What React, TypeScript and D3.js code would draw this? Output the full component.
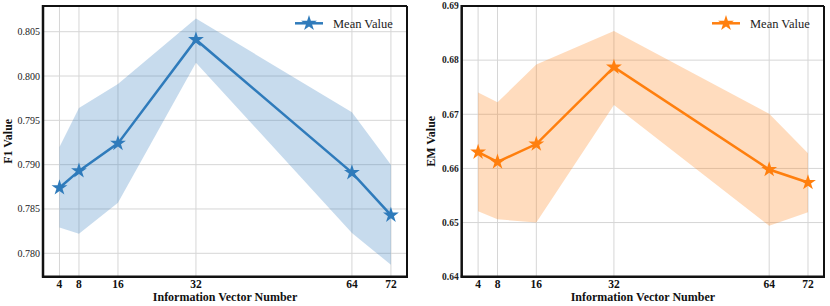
import React, { useRef, useEffect } from 'react';
import * as d3 from 'd3';

const vectorNumbers = [4, 8, 16, 32, 64, 72];

const f1Mean = [0.7874, 0.7893, 0.7924, 0.8041, 0.7891, 0.7843];
const f1Upper = [0.7920, 0.7964, 0.7991, 0.8065, 0.7959, 0.7900];
const f1Lower = [0.7829, 0.7822, 0.7857, 0.8015, 0.7823, 0.7787];
const f1Ticks = [0.780, 0.785, 0.790, 0.795, 0.800, 0.805];

const emMean = [0.6630, 0.6612, 0.6645, 0.6787, 0.6598, 0.6574];
const emUpper = [0.6740, 0.6722, 0.6792, 0.6854, 0.6701, 0.6628];
const emLower = [0.6521, 0.6506, 0.6500, 0.6717, 0.6494, 0.6519];
const emTicks = [0.64, 0.65, 0.66, 0.67, 0.68, 0.69];

type PanelProps = {
  left: number;
  right: number;
  yDomain: [number, number];
  yTicks: number[];
  tickFormat: string;
  tickBold: boolean;
  mean: number[];
  upper: number[];
  lower: number[];
  color: string;
  yLabel: string;
  yLabelX: number;
};

const top = 6;
const bottom = 276.7;
const serif = "'Liberation Serif', 'Times New Roman', 'DejaVu Serif', serif";

const Panel = (p: PanelProps) => {
  const ref = useRef<SVGGElement | null>(null);

  useEffect(() => {
    if (!ref.current) return;
    const g = d3.select(ref.current);
    g.selectAll('*').remove();

    const x = d3.scaleLinear().domain([0.62, 75.3]).range([p.left, p.right]);
    const y = d3.scaleLinear().domain(p.yDomain).range([bottom, top]);

    // grid
    g.selectAll('.gx')
      .data(vectorNumbers)
      .enter()
      .append('line')
      .attr('x1', d => x(d)).attr('x2', d => x(d))
      .attr('y1', top).attr('y2', bottom)
      .attr('stroke', '#d6d6d6').attr('stroke-width', 1);
    g.selectAll('.gy')
      .data(p.yTicks)
      .enter()
      .append('line')
      .attr('x1', p.left).attr('x2', p.right)
      .attr('y1', d => y(d)).attr('y2', d => y(d))
      .attr('stroke', '#d6d6d6').attr('stroke-width', 1);

    // band
    const idx = d3.range(vectorNumbers.length);
    const area = d3.area<number>()
      .x(i => x(vectorNumbers[i]))
      .y0(i => y(p.lower[i]))
      .y1(i => y(p.upper[i]));
    g.append('path')
      .attr('d', area(idx))
      .attr('fill', p.color)
      .attr('fill-opacity', 0.27);

    // mean line
    const line = d3.line<number>()
      .x(i => x(vectorNumbers[i]))
      .y(i => y(p.mean[i]));
    g.append('path')
      .attr('d', line(idx))
      .attr('fill', 'none')
      .attr('stroke', p.color)
      .attr('stroke-width', 2.5);

    const star = d3.symbol().type(d3.symbolStar).size(78);
    g.selectAll('.pt')
      .data(idx)
      .enter()
      .append('path')
      .attr('d', star()!)
      .attr('transform', i => `translate(${x(vectorNumbers[i])},${y(p.mean[i])})`)
      .attr('fill', p.color);

    // spines
    g.append('line').attr('x1', p.left).attr('x2', p.right).attr('y1', top).attr('y2', top)
      .attr('stroke', '#111').attr('stroke-width', 2);
    g.append('line').attr('x1', p.right).attr('x2', p.right).attr('y1', top).attr('y2', bottom)
      .attr('stroke', '#111').attr('stroke-width', 2);
    g.append('line').attr('x1', p.left).attr('x2', p.left).attr('y1', top - 1).attr('y2', bottom + 1)
      .attr('stroke', '#111').attr('stroke-width', 2.5);
    g.append('line').attr('x1', p.left - 1).attr('x2', p.right + 1).attr('y1', bottom).attr('y2', bottom)
      .attr('stroke', '#111').attr('stroke-width', 2.5);

    // tick labels
    const fmt = d3.format(p.tickFormat);
    g.selectAll('.yt')
      .data(p.yTicks)
      .enter()
      .append('text')
      .attr('x', p.left - 3)
      .attr('y', d => y(d))
      .attr('dy', '0.35em')
      .attr('text-anchor', 'end')
      .style('font-family', serif)
      .style('font-size', p.tickBold ? '9.5px' : '10px')
      .style('font-weight', p.tickBold ? 'bold' : 'normal')
      .attr('fill', '#222')
      .text(d => fmt(d));

    g.selectAll('.xt')
      .data(vectorNumbers)
      .enter()
      .append('text')
      .attr('x', d => x(d))
      .attr('y', bottom + 11.5)
      .attr('text-anchor', 'middle')
      .style('font-family', serif)
      .style('font-size', '11.5px')
      .style('font-weight', 'bold')
      .attr('fill', '#111')
      .text(d => d);

    // axis labels
    g.append('text')
      .attr('x', (p.left + p.right) / 2)
      .attr('y', 301)
      .attr('text-anchor', 'middle')
      .style('font-family', serif)
      .style('font-size', '12px')
      .style('font-weight', 'bold')
      .attr('fill', '#111')
      .text('Information Vector Number');

    g.append('text')
      .attr('transform', `translate(${p.yLabelX},${(top + bottom) / 2}) rotate(-90)`)
      .attr('text-anchor', 'middle')
      .attr('dy', '0.35em')
      .style('font-family', serif)
      .style('font-size', '12px')
      .style('font-weight', 'bold')
      .attr('fill', '#111')
      .text(p.yLabel);

    // legend
    const lx = p.right - 112;
    const ly = 23.3;
    g.append('line')
      .attr('x1', lx).attr('x2', lx + 28)
      .attr('y1', ly).attr('y2', ly)
      .attr('stroke', p.color).attr('stroke-width', 2.5);
    g.append('path')
      .attr('d', star()!)
      .attr('transform', `translate(${lx + 14},${ly})`)
      .attr('fill', p.color);
    g.append('text')
      .attr('x', lx + 38)
      .attr('y', ly)
      .attr('dy', '0.35em')
      .style('font-family', serif)
      .style('font-size', '12.5px')
      .attr('fill', '#222')
      .text('Mean Value');
  }, [p]);

  return <g ref={ref} />;
};

const App = () => {
  return (
    <svg width={830} height={306} style={{ position: 'absolute', left: 0, top: 0, background: '#fff' }}>
      <Panel
        left={43}
        right={407}
        yDomain={[0.77736, 0.8079]}
        yTicks={f1Ticks}
        tickFormat=".3f"
        tickBold={false}
        mean={f1Mean}
        upper={f1Upper}
        lower={f1Lower}
        color="#2f7bbb"
        yLabel="F1 Value"
        yLabelX={8}
      />
      <Panel
        left={461.7}
        right={824}
        yDomain={[0.64, 0.69]}
        yTicks={emTicks}
        tickFormat=".2f"
        tickBold={true}
        mean={emMean}
        upper={emUpper}
        lower={emLower}
        color="#ff7f0e"
        yLabel="EM Value"
        yLabelX={430.7}
      />
    </svg>
  );
};

export default App;
